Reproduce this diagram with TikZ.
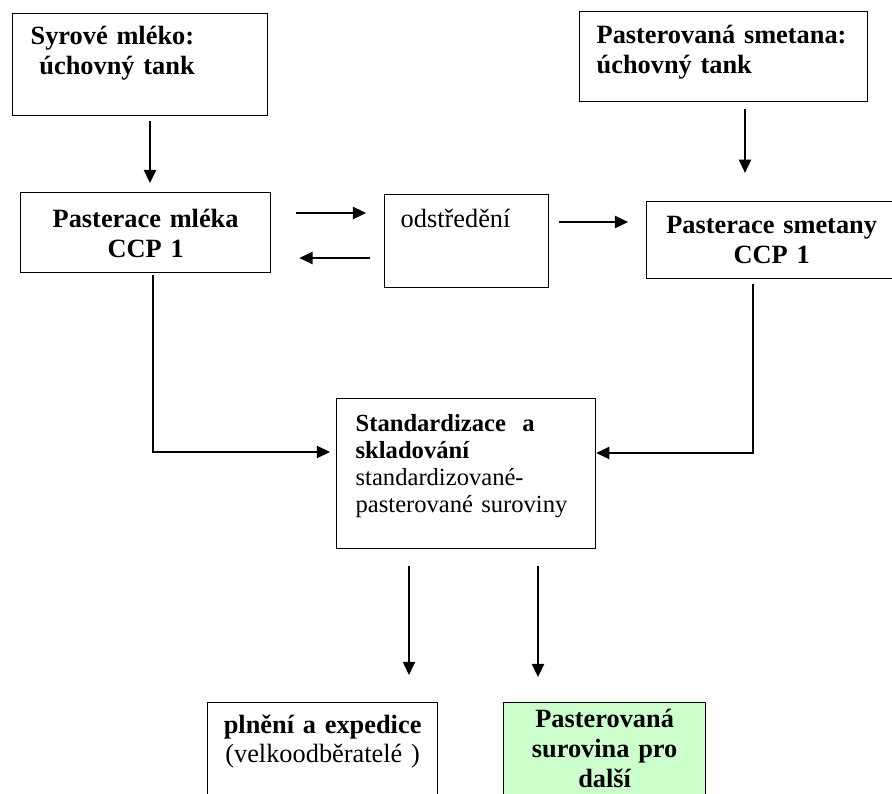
\documentclass[tikz,border=0pt]{standalone}
\usepackage{fontspec}
\setmainfont{Liberation Serif}
\usepackage{xcolor}
\definecolor{zelena}{rgb}{0.8,1,0.8}
\usetikzlibrary{calc,positioning,arrows.meta}
\tikzset{
  krok/.style={rectangle, draw=black, line width=0.75pt, anchor=north west, inner ysep=0pt, align=left, font=\fontsize{15}{17}\selectfont\bfseries},
  krokc/.style={krok, align=center, inner xsep=0.1cm},
  krokr/.style={krok, font=\fontsize{15}{17}\selectfont},
  krokz/.style={krokc, fill=zelena},
  line/.style={draw, line width=0.8pt, -{Triangle[length=7.5pt,width=7pt]}},
}
\begin{document}
\begin{tikzpicture}[x=0.02cm, y=-0.02cm]
  \useasboundingbox (0,0) rectangle (892,794);
  \clip (0,0) rectangle (892,794);
  % horni rada
  \node[krok, inner xsep=0.36cm, text width=4.38cm, text height=0.62cm, text depth=1.42cm] (syrove) at (12,13) {Syrové mléko:\\\ úchovný tank};
  \node[krok, inner xsep=0.34cm, text width=5.08cm, text height=0.64cm, text depth=1.16cm] (smtank) at (579,11) {Pasterovaná smetana:\\úchovný tank};
  % pasterace a odstredeni
  \node[krokc, text width=4.80cm, text height=0.70cm, text depth=0.90cm] (mleko) at (20,192) {Pasterace mléka\\CCP 1};
  \node[krokr, inner xsep=0.32cm, text width=2.64cm, text height=0.66cm, text depth=1.20cm] (odstred) at (384,194) {odstředění};
  \node[krokc, text width=4.80cm, text height=0.64cm, text depth=0.90cm] (smpast) at (646,201) {Pasterace smetany\\CCP 1};
  % standardizace
  \node[krok, font=\fontsize{14}{15.4}\selectfont, inner xsep=0.38cm, text width=4.42cm, text height=0.66cm, text depth=2.34cm] (standard) at (336,398)
    {{\bfseries Standardizace\ \ a}\\{\bfseries skladování}\\standardizované-\\pasterované suroviny};
  % vystupy
  \node[krokc, font=\fontsize{15}{16.5}\selectfont, text width=4.40cm, text height=0.62cm, text depth=1.94cm] (plneni) at (207,702)
    {{\bfseries plnění a expedice}\\(velkoodběratelé )};
  \node[krokz, text width=3.84cm, text height=0.50cm, text depth=2.06cm] (dalsi) at (503,702) {Pasterovaná\\surovina pro\\další};
  % sipky
  \draw[line, shorten <=2.8pt, shorten >=5.1pt] (syrove.south -| 150,0) -- (mleko.north -| 150,0);
  \draw[line, shorten <=4pt, shorten >=16pt] (smtank.south -| 745,0) -- (smpast.north -| 745,0);
  \draw[line, shorten <=14.2pt, shorten >=10.2pt] (mleko.east |- 0,213) -- (odstred.west |- 0,213);
  \draw[line, shorten <=8pt, shorten >=16pt] (odstred.west |- 0,258) -- (mleko.east |- 0,258);
  \draw[line, shorten <=5.7pt, shorten >=10.2pt] (odstred.east |- 0,222) -- (smpast.west |- 0,222);
  \draw[line, shorten <=1pt, shorten >=3.4pt] (mleko.south -| 153,0) |- (standard.west |- 0,452);
  \draw[line, shorten <=2.8pt] (smpast.south -| 753,0) |- (standard.east |- 0,453);
  \draw[line, shorten <=9.7pt, shorten >=15.4pt] (standard.south -| 409,0) -- (plneni.north -| 409,0);
  \draw[line, shorten <=9.7pt, shorten >=14.2pt] (standard.south -| 538,0) -- (dalsi.north -| 538,0);
\end{tikzpicture}
\end{document}
